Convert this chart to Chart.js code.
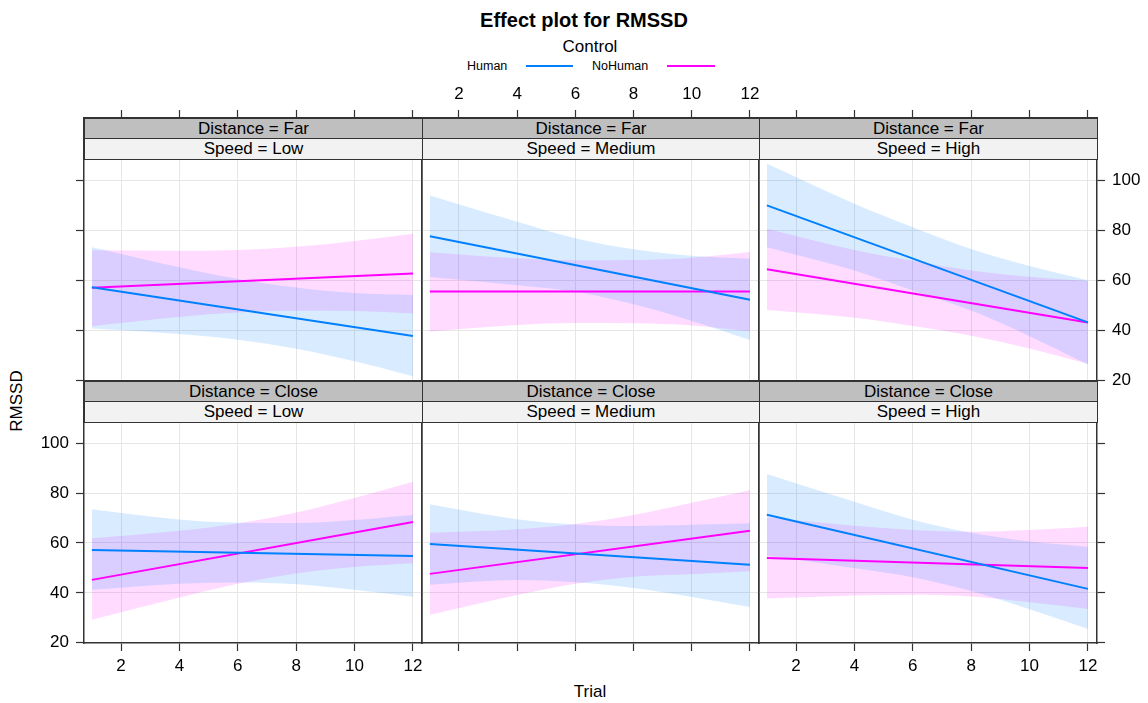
<!DOCTYPE html>
<html>
<head>
<meta charset="utf-8">
<script src="https://cdn.jsdelivr.net/npm/chart.js@4/dist/chart.umd.min.js"></script>
<style>
  body { margin: 0; background: #fff; font-family: "Liberation Sans", Arial, sans-serif; color: #000; }
  #wrap { position: relative; width: 1148px; height: 703px; overflow: hidden; }
  #wrap canvas { position: absolute; }
  .txt { position: absolute; white-space: nowrap; }
  .strip { position: absolute; box-sizing: border-box; border: 1.5px solid #333; text-align: center; font-size: 17px; z-index: 5; }
  .dark { background: #bfbfbf; }
  .light { background: #f2f2f2; }
  .key { position: absolute; height: 2px; }
</style>
</head>
<body>
<div id="wrap">
  <div class="txt" style="left:0;width:1168px;top:9px;text-align:center;font-size:20px;font-weight:bold;">Effect plot for RMSSD</div>
  <div class="txt" style="left:0;width:1180px;top:37px;text-align:center;font-size:17px;">Control</div>
  <div class="txt" style="left:467px;top:59px;font-size:12.5px;">Human</div>
  <div class="key" style="left:526px;top:65px;width:47px;background:#0080ff;"></div>
  <div class="txt" style="left:592px;top:59px;font-size:12.5px;">NoHuman</div>
  <div class="key" style="left:667px;top:65px;width:48px;background:#ff00ff;"></div>
  <div class="txt" style="left:0;width:1180px;top:682px;text-align:center;font-size:17px;">Trial</div>
  <div class="txt" style="left:-23px;top:391px;width:80px;height:20px;line-height:20px;text-align:center;font-size:17px;transform:rotate(-90deg);">RMSSD</div>
</div>
<script>
// facets, row-major: Far row on top, Close row below
const distances = ["Far", "Close"];
const speeds = ["Low", "Medium", "High"];
const xTicks = [2, 4, 6, 8, 10, 12];
const yTicks = [20, 40, 60, 80, 100];

// fitted lines at Trial 1 and Trial 12
const fitTrials = [1, 12];
const humanFit = [
  [57.3, 37.9], [77.7, 52.3], [90.0, 43.3],
  [57.2, 54.8], [59.6, 51.3], [71.3, 41.6]
];
const noHumanFit = [
  [57.1, 62.8], [55.6, 55.6], [64.5, 43.3],
  [45.2, 68.4], [47.6, 64.9], [54.0, 50.0]
];

// confidence bands read at these trials
const bandTrials = [1, 4, 6, 8, 10, 12];
const humanUpper = [
  [73.3, 65.3, 60.6, 57.2, 55.0, 54.2],
  [94.0, 83.5, 76.9, 72.5, 69.9, 68.7],
  [106.7, 90.7, 81.3, 72.6, 65.8, 60.1],
  [73.5, 69.4, 68.1, 68.0, 69.2, 71.2],
  [75.5, 69.5, 67.4, 66.8, 67.3, 67.9],
  [87.6, 76.5, 69.3, 64.1, 60.6, 58.5]
];
const humanLower = [
  [40.9, 38.7, 36.4, 32.8, 27.8, 21.8],
  [61.4, 58.1, 55.5, 50.5, 43.9, 36.3],
  [73.3, 64.0, 56.0, 48.0, 37.8, 26.5],
  [41.2, 43.6, 44.1, 43.4, 41.2, 38.4],
  [43.2, 45.1, 44.2, 41.9, 38.3, 34.3],
  [55.0, 49.9, 46.3, 40.7, 33.4, 25.5]
];
const noHumanUpper = [
  [72.1, 71.9, 72.2, 73.5, 75.8, 78.7],
  [71.3, 68.9, 68.1, 68.2, 69.1, 71.4],
  [80.7, 72.2, 67.9, 64.0, 61.5, 59.8],
  [61.9, 64.9, 67.8, 72.2, 78.0, 84.5],
  [64.1, 65.5, 67.6, 71.2, 76.1, 81.1],
  [70.3, 66.9, 65.2, 64.5, 65.2, 66.5]
];
const noHumanLower = [
  [41.8, 45.5, 47.2, 47.9, 47.8, 46.8],
  [39.7, 42.3, 43.1, 43.0, 42.1, 39.8],
  [48.3, 45.2, 41.9, 38.0, 32.9, 26.8],
  [29.2, 38.1, 43.6, 47.8, 50.4, 51.9],
  [31.2, 39.1, 43.6, 46.5, 47.5, 48.7],
  [37.7, 38.9, 39.2, 38.5, 36.2, 33.5]
];

// layout
const XMIN = 0.73, XMAX = 12.31, YMIN = 19.9, YMAX = 124.9;
const colLeft = [84, 422, 759], colW = [338, 337, 338];
const rowTop = [118, 381], rowH = [263, 262];
const M = 60;

Chart.defaults.font.family = '"Liberation Sans", Arial, sans-serif';
Chart.defaults.font.size = 17;
Chart.defaults.color = "#000";

const wrap = document.getElementById("wrap");

const toPts = (xs, ys) => xs.map((x, i) => ({ x: x, y: ys[i] }));

function axis(pos, isX, hasTicks, hasLabels, primary) {
  return {
    type: "linear",
    position: pos,
    min: isX ? XMIN : YMIN,
    max: isX ? XMAX : YMAX,
    afterBuildTicks: (s) => {
      s.ticks = (isX ? xTicks : yTicks).map((v) => ({ value: v }));
    },
    afterFit: (s) => {
      if (isX) s.height = M;
      else s.width = M;
    },
    grid: {
      display: true,
      drawOnChartArea: primary,
      color: "#e6e6e6",
      lineWidth: 1,
      drawTicks: hasTicks,
      tickLength: 8,
      tickColor: "#333",
      tickWidth: 1.2,
    },
    border: { display: true, color: "#333", width: 1.5 },
    ticks: {
      color: hasLabels ? "#000" : "rgba(0,0,0,0)",
      padding: isX ? 5 : 7,
      maxRotation: 0,
      autoSkip: false,
      font: { size: 17 },
    },
  };
}

distances.forEach((dist, r) => {
  speeds.forEach((speed, c) => {
    const p = r * 3 + c;
    const cv = document.createElement("canvas");
    const w = colW[c] + 2 * M, h = rowH[r] + 2 * M;
    cv.width = w;
    cv.height = h;
    cv.style.left = colLeft[c] - M + "px";
    cv.style.top = rowTop[r] - M + "px";
    cv.style.width = w + "px";
    cv.style.height = h + "px";
    wrap.appendChild(cv);

    const band = {
      pointRadius: 0,
      borderWidth: 0,
      borderColor: "rgba(0,0,0,0)",
      tension: 0.4,
      cubicInterpolationMode: "monotone",
    };

    new Chart(cv, {
      type: "line",
      data: {
        datasets: [
          { label: "Human", data: toPts(fitTrials, humanFit[p]), borderColor: "#0080ff", borderWidth: 2, pointRadius: 0, fill: false },
          { label: "NoHuman", data: toPts(fitTrials, noHumanFit[p]), borderColor: "#ff00ff", borderWidth: 2, pointRadius: 0, fill: false },
          { ...band, data: toPts(bandTrials, humanUpper[p]), backgroundColor: "rgba(0,128,255,0.15)", fill: "+1" },
          { ...band, data: toPts(bandTrials, humanLower[p]), fill: false },
          { ...band, data: toPts(bandTrials, noHumanUpper[p]), backgroundColor: "rgba(255,0,255,0.14)", fill: "+1" },
          { ...band, data: toPts(bandTrials, noHumanLower[p]), fill: false },
        ],
      },
      options: {
        responsive: false,
        animation: false,
        layout: { padding: 0 },
        plugins: { legend: { display: false }, tooltip: { enabled: false } },
        scales: {
          x: axis("bottom", true, r === 1, r === 1 && c !== 1, true),
          x2: axis("top", true, r === 0, r === 0 && c === 1, false),
          y: axis("left", false, c === 0, r === 1 && c === 0, true),
          y2: axis("right", false, c === 2, r === 0 && c === 2, false),
        },
      },
    });

    // strips
    const s1 = document.createElement("div");
    s1.className = "strip dark";
    s1.style.cssText += `left:${colLeft[c]}px;top:${rowTop[r]}px;width:${colW[c] + 1}px;height:21px;line-height:19px;`;
    s1.textContent = "Distance = " + dist;
    wrap.appendChild(s1);
    const s2 = document.createElement("div");
    s2.className = "strip light";
    s2.style.cssText += `left:${colLeft[c]}px;top:${rowTop[r] + 20}px;width:${colW[c] + 1}px;height:22px;line-height:20px;`;
    s2.textContent = "Speed = " + speed;
    wrap.appendChild(s2);
  });
});
</script>
</body>
</html>
